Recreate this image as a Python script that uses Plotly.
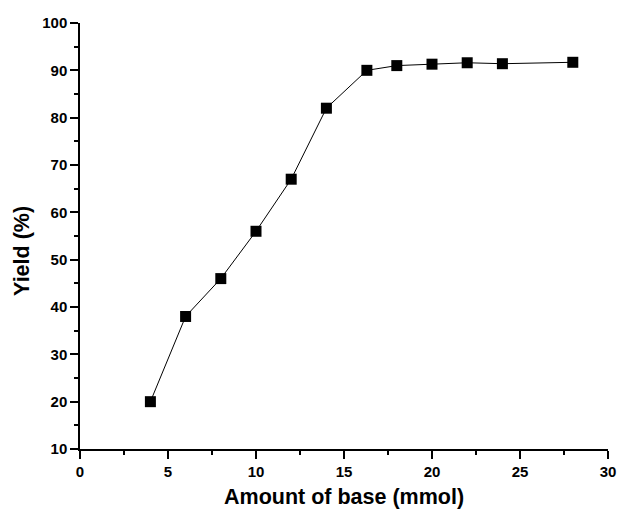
import plotly.graph_objects as go

base_mmol = [4, 6, 8, 10, 12, 14, 16.3, 18, 20, 22, 24, 28]
yield_pct = [20, 38, 46, 56, 67, 82, 90, 91, 91.3, 91.6, 91.4, 91.7]

x_ticks = [0, 5, 10, 15, 20, 25, 30]
y_ticks = [10, 20, 30, 40, 50, 60, 70, 80, 90, 100]

FONT = "Liberation Sans, Arial, sans-serif"

fig = go.Figure()
fig.add_trace(go.Scatter(
    x=base_mmol, y=yield_pct, mode="lines+markers",
    line=dict(color="black", width=1),
    marker=dict(symbol="square", size=11, color="black"),
    showlegend=False,
))

axis_common = dict(
    showline=True, linecolor="black", linewidth=1.5,
    ticks="outside", ticklen=8, tickwidth=1.5, tickcolor="black",
    showgrid=False, zeroline=False, mirror=False,
    tickfont=dict(family=FONT, size=15, color="black"),
    minor=dict(ticks="outside", ticklen=4, tickwidth=1.5, tickcolor="black"),
)

fig.update_xaxes(
    range=[0, 30], tickvals=x_ticks, ticktext=[f"<b>{v}</b>" for v in x_ticks],
    minor_dtick=2.5,
    **axis_common,
)
fig.update_yaxes(
    range=[10, 100], tickvals=y_ticks, ticktext=[f"<b>{v}</b>" for v in y_ticks],
    minor_dtick=5,
    **axis_common,
)

fig.add_annotation(
    text="<b>Amount of base (mmol)</b>", xref="paper", yref="paper",
    x=0.5, y=0, xanchor="center", yanchor="middle", yshift=-48,
    showarrow=False, font=dict(family=FONT, size=21.5, color="black"),
)
fig.add_annotation(
    text="<b>Yield (%)</b>", xref="paper", yref="paper",
    x=0, y=0.465, xanchor="center", yanchor="middle", xshift=-58,
    textangle=-90,
    showarrow=False, font=dict(family=FONT, size=21.5, color="black"),
)

fig.update_layout(
    width=619, height=509,
    margin=dict(l=80, r=11, t=23, b=60, autoexpand=False),
    paper_bgcolor="white", plot_bgcolor="white",
    font=dict(family=FONT, color="black"),
)

fig.write_html(
    "out.html",
    config={"displayModeBar": False},
    post_script="document.body.style.margin='0';document.body.style.overflow='hidden';",
)
